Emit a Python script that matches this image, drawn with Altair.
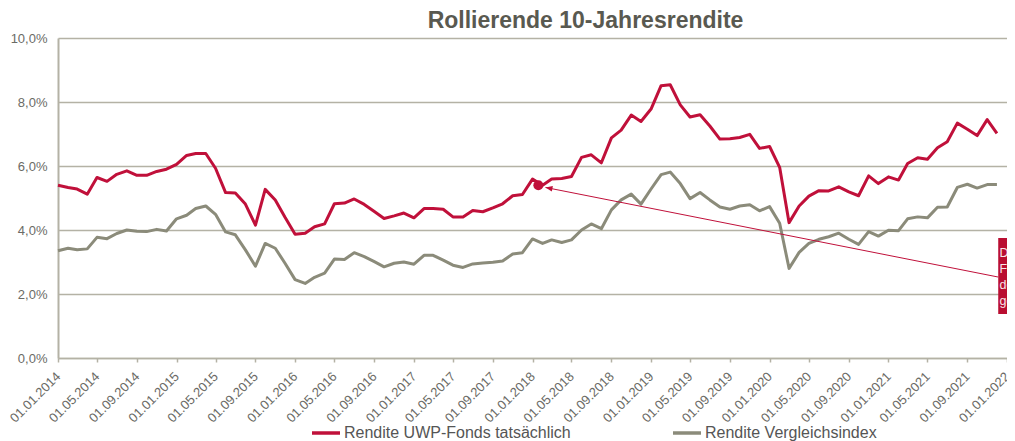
import altair as alt
import pandas as pd

# ---------------- data ----------------
months = pd.date_range("2014-01-01", periods=96, freq="MS").strftime("%Y-%m-%dT00:00:00").tolist()

fund = [5.40, 5.33, 5.28, 5.12, 5.64, 5.52, 5.74, 5.85, 5.71, 5.71, 5.83, 5.90,
        6.05, 6.33, 6.39, 6.39, 5.93, 5.17, 5.16, 4.81, 4.15, 5.27, 4.94, 4.40,
        3.87, 3.90, 4.10, 4.19, 4.82, 4.84, 4.97, 4.80, 4.58, 4.36, 4.44, 4.53,
        4.38, 4.67, 4.67, 4.65, 4.41, 4.41, 4.61, 4.57, 4.69, 4.82, 5.07, 5.11,
        5.59, 5.40, 5.59, 5.61, 5.67, 6.27, 6.35, 6.10, 6.88, 7.12, 7.59, 7.39,
        7.78, 8.51, 8.54, 7.91, 7.53, 7.60, 7.25, 6.84, 6.85, 6.89, 6.99, 6.55,
        6.61, 5.96, 4.23, 4.75, 5.06, 5.23, 5.22, 5.35, 5.19, 5.07, 5.69, 5.45,
        5.66, 5.56, 6.08, 6.26, 6.21, 6.57, 6.76, 7.34, 7.15, 6.95, 7.45, 7.02]

index = [3.35, 3.43, 3.38, 3.41, 3.77, 3.73, 3.89, 4.00, 3.96, 3.95, 4.02, 3.97,
         4.35, 4.46, 4.67, 4.75, 4.49, 3.94, 3.85, 3.38, 2.87, 3.58, 3.43, 2.96,
         2.45, 2.33, 2.52, 2.65, 3.09, 3.08, 3.29, 3.17, 3.01, 2.85, 2.96, 3.00,
         2.93, 3.21, 3.21, 3.06, 2.90, 2.83, 2.94, 2.97, 2.99, 3.03, 3.25, 3.29,
         3.72, 3.58, 3.69, 3.61, 3.69, 4.00, 4.19, 4.04, 4.63, 4.94, 5.12, 4.81,
         5.28, 5.73, 5.81, 5.45, 4.98, 5.17, 4.94, 4.72, 4.65, 4.75, 4.79, 4.60,
         4.73, 4.21, 2.80, 3.30, 3.58, 3.71, 3.79, 3.90, 3.71, 3.55, 3.95, 3.81,
         3.99, 3.98, 4.35, 4.41, 4.38, 4.71, 4.72, 5.33, 5.43, 5.31, 5.42, 5.42]

series_names = ["Rendite UWP-Fonds tatsächlich", "Rendite Vergleichsindex"]
series_colors = ["#C0103A", "#8B8B7A"]

y_ticks = [0, 2, 4, 6, 8, 10]
x_tick_dates = [(y, m) for y in range(2014, 2022) for m in (1, 5, 9)] + [(2022, 1)]

# annotation (highlighted point, arrow, callout box)
dot_date = ["2018-01-19T00:00:00"]
dot_value = [5.40]
arrow_from = ("2021-12-05T00:00:00", 2.53)
arrow_to = ("2018-02-10T00:00:00", 5.33)
box_x = ("2021-12-05T00:00:00", "2022-03-01T00:00:00")
box_y = (3.75, 1.375)
box_text_date = "2021-12-09T00:00:00"
box_lines = ["Die UWP-Fonds-", "Fondsrendite lag", "deutlich über dem", "gesamten Index"]
box_line_values = [3.156, 2.656, 2.156, 1.656]

# ---------------- frames ----------------
lines_df = pd.DataFrame({
    "date": months * 2,
    "value": index + fund,
    "series": [series_names[1]] * len(index) + [series_names[0]] * len(fund),
    "order": [0] * len(index) + [1] * len(fund),
})
dot_df = pd.DataFrame({"date": dot_date, "value": dot_value})
arrow_df = pd.DataFrame({"date": [arrow_from[0]], "value": [arrow_from[1]],
                         "date2": [arrow_to[0]], "value2": [arrow_to[1]]})
head_df = pd.DataFrame({"date": [arrow_to[0]], "value": [arrow_to[1]]})
box_df = pd.DataFrame({"date": [box_x[0]], "date2": [box_x[1]],
                       "value": [box_y[0]], "value2": [box_y[1]]})
boxtext_df = pd.DataFrame({"date": [box_text_date] * len(box_lines),
                           "value": box_line_values, "txt": box_lines})

FONT = "Liberation Sans"
GRID = "#B4B2A5"
LABEL = "#6B6B66"

x_scale = alt.Scale(domain=[alt.DateTime(year=2014, month=1, date=1),
                            alt.DateTime(year=2022, month=1, date=1)], nice=False)
y_scale = alt.Scale(domain=[0, 10], nice=False)

x_axis = alt.Axis(
    values=[alt.DateTime(year=y, month=m, date=1) for y, m in x_tick_dates],
    tickCount=40,
    format="%d.%m.%Y", labelAngle=315, labelAlign="right", labelBaseline="middle",
    grid=False, ticks=True, tickSize=4, tickColor=GRID, tickWidth=1.5,
    domain=True, domainColor=GRID, domainWidth=1.5,
    labelPadding=12, labelFontSize=13, labelFont=FONT, labelColor=LABEL,
    labelOverlap=False, labelFlush=False, labelBound=False, title=None,
)
y_axis = alt.Axis(
    values=y_ticks,
    labelExpr="replace(format(datum.value, '.1f'), '.', ',') + '%'",
    grid=True, gridColor=GRID, gridWidth=1.5,
    domain=True, domainColor=GRID, domainWidth=2,
    ticks=False, labelPadding=11, labelFontSize=13, labelFont=FONT,
    labelColor=LABEL, title=None,
)

base_x = alt.X("date:T", scale=x_scale, axis=x_axis)
base_y = alt.Y("value:Q", scale=y_scale, axis=y_axis)

lines = alt.Chart(lines_df).mark_line(strokeWidth=3, strokeJoin="round").encode(
    x=base_x,
    y=base_y,
    color=alt.Color("series:N",
                    scale=alt.Scale(domain=series_names, range=series_colors),
                    legend=alt.Legend(title=None, orient="none", legendX=252, legendY=379,
                                      direction="horizontal", symbolType="stroke",
                                      symbolStrokeWidth=3.5, symbolSize=784,
                                      labelFontSize=16, labelFont=FONT, labelColor="#555555",
                                      columnPadding=95, labelOffset=2, labelLimit=400)),
    order=alt.Order("order:Q"),
)

box = alt.Chart(box_df).mark_rect(color="#B90E31").encode(
    x="date:T", x2="date2:T", y="value:Q", y2="value2:Q")

box_text = alt.Chart(boxtext_df).mark_text(
    align="left", baseline="alphabetic", fontSize=12.5, font=FONT, color="#F6E6EA"
).encode(x="date:T", y="value:Q", text="txt:N")

arrow = alt.Chart(arrow_df).mark_rule(color="#C0103A", strokeWidth=1).encode(
    x="date:T", y="value:Q", x2="date2:T", y2="value2:Q")

head = alt.Chart(head_df).mark_point(
    shape="M0,0L2,-0.8L2,0.8Z", filled=True, color="#C0103A", size=49,
    angle=11.3, opacity=1
).encode(x="date:T", y="value:Q")

dot = alt.Chart(dot_df).mark_point(
    shape="circle", filled=True, color="#C0103A", size=100, opacity=1
).encode(x="date:T", y="value:Q")

chart = alt.layer(lines, arrow, head, dot, box, box_text).properties(
    width=949, height=320,
    autosize=alt.AutoSizeParams(type="none"),
    padding={"left": 50, "top": 30, "right": 0, "bottom": 83},
    title=alt.TitleParams("Rollierende 10-Jahresrendite", fontSize=23, fontWeight="bold",
                          font=FONT, color="#595950", anchor="middle", dx=53, dy=5),
).configure_view(stroke=None)

chart.save("out.html", embed_options={"renderer": "svg", "actions": False})
